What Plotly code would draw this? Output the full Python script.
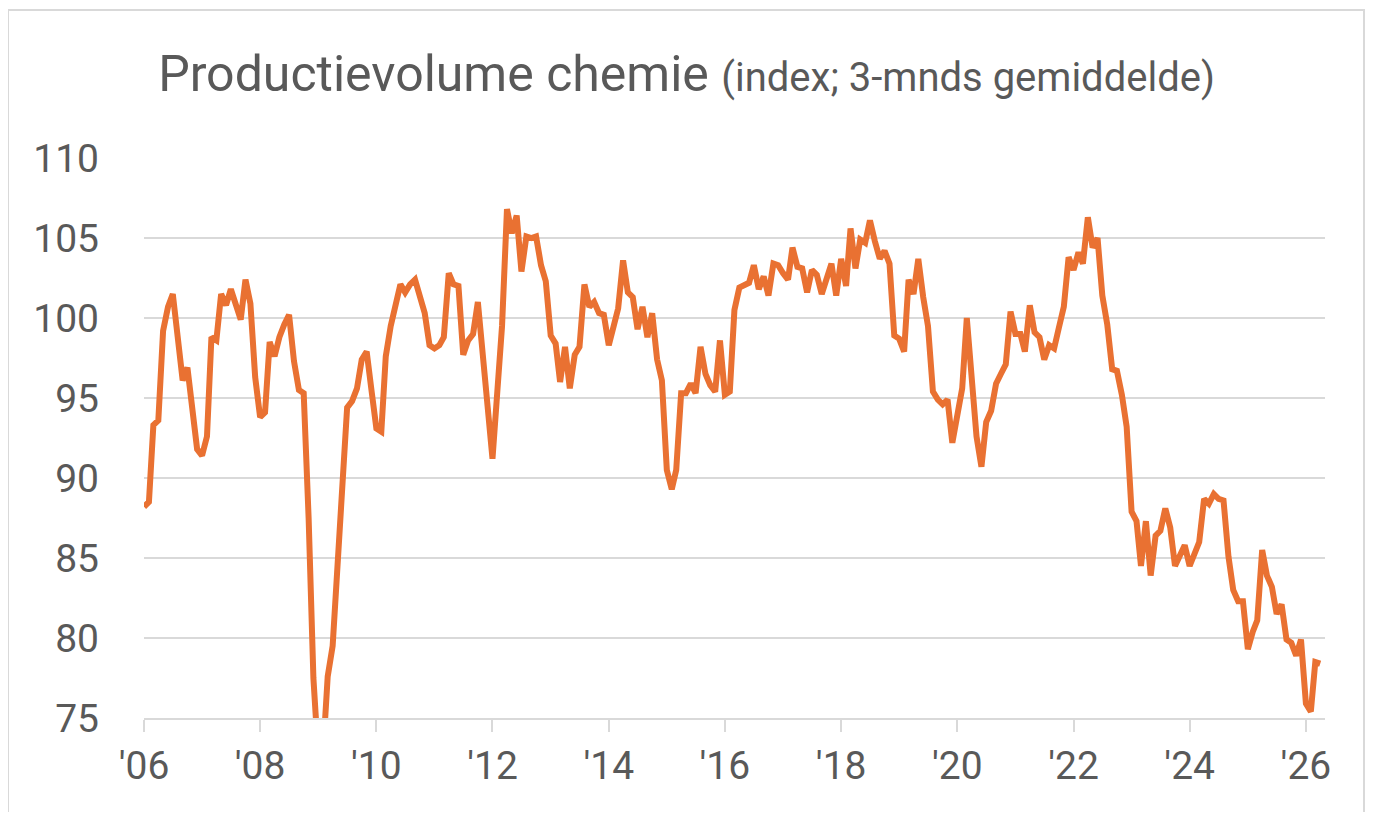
import pandas as pd
import plotly.graph_objects as go

start_month = "2006-01-01"

values = [
    88.2, 88.5, 93.3, 93.6, 99.2, 100.7, 101.5, 98.6, 96.1, 96.9, 94.2, 91.8,   # 2006
    91.4, 92.6, 98.8, 98.6, 101.5, 100.8, 101.8, 100.8, 99.9, 102.4, 100.9, 96.3,  # 2007
    93.8, 94.1, 98.5, 97.6, 98.8, 99.6, 100.2, 97.3, 95.5, 95.3, 87.5, 77.5,    # 2008
    72.5, 73.0, 77.6, 79.5, 84.0, 90.0, 94.4, 94.8, 95.6, 97.4, 97.9, 95.5,     # 2009
    93.1, 92.9, 97.6, 99.5, 101.0, 102.1, 101.6, 102.1, 102.4, 101.5, 100.3, 98.3,  # 2010
    98.1, 98.3, 98.8, 102.8, 102.1, 102.0, 97.7, 98.6, 99.0, 101.0, 97.5, 94.0,  # 2011
    91.2, 95.5, 99.5, 106.8, 105.3, 106.4, 102.9, 105.1, 105.0, 105.1, 103.3, 102.3,  # 2012
    98.9, 98.4, 96.0, 98.2, 95.6, 97.7, 98.2, 102.1, 100.7, 101.0, 100.3, 100.2,  # 2013
    98.3, 99.5, 100.6, 103.6, 101.6, 101.3, 99.3, 100.7, 98.8, 100.3, 97.4, 96.1,  # 2014
    90.5, 89.3, 90.5, 95.3, 95.3, 95.9, 95.3, 98.2, 96.5, 95.8, 95.4, 98.6,      # 2015
    95.2, 95.4, 100.5, 101.9, 102.0, 102.2, 103.3, 101.8, 102.6, 101.4, 103.4, 103.3,  # 2016
    102.8, 102.4, 104.4, 103.2, 103.1, 101.6, 103.0, 102.7, 101.5, 102.5, 103.4, 101.4,  # 2017
    103.7, 102.0, 105.6, 103.1, 104.9, 104.7, 106.1, 104.8, 103.7, 104.2, 103.4, 98.9,  # 2018
    98.7, 97.9, 102.4, 101.5, 103.7, 101.3, 99.5, 95.4, 94.9, 94.6, 94.9, 92.2,  # 2019
    94.0, 95.6, 100.0, 96.0, 92.6, 90.7, 93.5, 94.2, 95.9, 96.5, 97.1, 100.4,   # 2020
    99.0, 99.0, 97.9, 100.8, 99.1, 98.8, 97.4, 98.3, 98.1, 99.4, 100.7, 103.8,  # 2021
    103.0, 104.1, 103.4, 106.3, 104.4, 105.0, 101.4, 99.6, 96.8, 96.7, 95.2, 93.2,  # 2022
    87.9, 87.3, 84.5, 87.3, 83.9, 86.4, 86.7, 88.1, 86.9, 84.5, 85.2, 85.8,     # 2023
    84.5, 85.2, 86.0, 88.7, 88.4, 89.0, 88.7, 88.6, 85.1, 83.0, 82.3, 82.3,     # 2024
    79.3, 80.4, 81.1, 85.5, 83.9, 83.2, 81.5, 82.1, 79.9, 79.7, 78.9, 79.9,     # 2025
    75.9, 75.4, 78.5, 78.4,                                                     # 2026
]

dates = pd.date_range(start_month, periods=len(values), freq="MS")

tick_years = list(range(2006, 2027, 2))
tick_vals = [f"{y}-01-01" for y in tick_years]
tick_text = [f"'{str(y)[2:]}" for y in tick_years]

y_ticks = [75, 80, 85, 90, 95, 100, 105, 110]

GREY = "#595959"
FONT = "Roboto, Liberation Sans, sans-serif"

W, H = 1357, 804
L, R, T, B = 136, 40, 150, 94
PW, PH = W - L - R, H - T - B

fig = go.Figure()
fig.add_trace(go.Scatter(
    x=dates, y=values, mode="lines",
    line=dict(color="#E97132", width=6),
    hoverinfo="x+y", showlegend=False,
))

fig.update_layout(
    width=W, height=H,
    margin=dict(l=L, r=R, t=T, b=B),
    paper_bgcolor="white", plot_bgcolor="white",
    font=dict(family=FONT, color=GREY),
    title=dict(
        text="Productievolume chemie <span style='font-size:40px'>(index; 3-mnds gemiddelde)</span>",
        x=0.5, xref="container", xanchor="center",
        y=1 - 65 / H, yref="container", yanchor="middle",
        font=dict(family=FONT, size=50, color=GREY),
    ),
    xaxis=dict(
        type="date",
        range=["2006-01-01", "2026-05-01"],
        tickvals=tick_vals, ticktext=tick_text,
        showgrid=False, zeroline=False,
        showline=True, linecolor="#d9d9d9", linewidth=2,
        ticks="outside", ticklen=12, tickwidth=2, tickcolor="#d9d9d9",
        tickfont=dict(family=FONT, size=39, color=GREY),
    ),
    yaxis=dict(
        range=[75, 110], tickvals=y_ticks,
        showgrid=True, gridcolor="#d9d9d9", gridwidth=2,
        zeroline=False, showline=False, ticks="",
        ticklabelstandoff=44,
        tickfont=dict(family=FONT, size=39, color=GREY),
    ),
    shapes=[dict(
        type="rect", xref="paper", yref="paper",
        x0=(0 - L) / PW, x1=(1356 - L) / PW,
        y0=-(B + 10) / PH, y1=(H - B - 2) / PH,
        line=dict(color="#d9d9d9", width=2), fillcolor="rgba(0,0,0,0)", layer="below",
    )],
)

fig.write_html("out.html")
